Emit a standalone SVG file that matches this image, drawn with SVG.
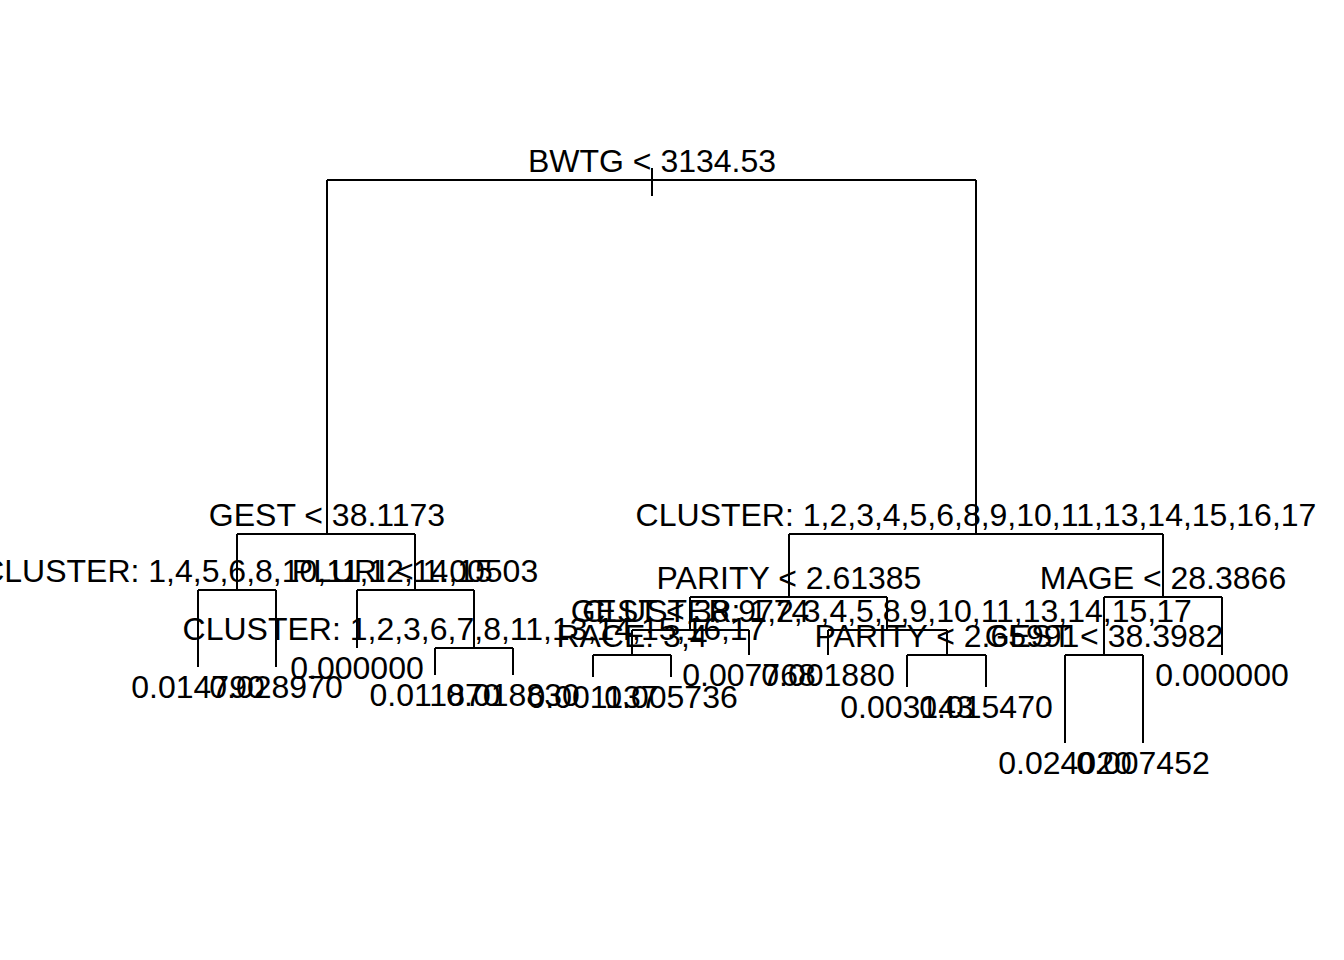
<svg xmlns="http://www.w3.org/2000/svg" width="1344" height="960" viewBox="0 0 1344 960">
<style>
  .e { fill: none; stroke: #000; stroke-width: 2; stroke-linecap: butt; }
  text { font-family: "Liberation Sans", Arial, sans-serif; font-size: 32px; fill: #000; text-anchor: middle; }
</style>
<rect width="1344" height="960" fill="#fff"/>
<g id="connectors">
  <path class="e" d="M652,168 V196 M327,180 H976"/>
  <path class="e" d="M327,180 V534 M237,534 H415"/>
  <path class="e" d="M237,534 V590 M198,590 H276 M198,590 V667 M276,590 V667"/>
  <path class="e" d="M415,534 V590 M357,590 H474 M357,590 V648"/>
  <path class="e" d="M474,590 V648 M435,648 H513 M435,648 V675 M513,648 V675"/>
  <path class="e" d="M976,180 V534 M789,534 H1163"/>
  <path class="e" d="M789,534 V597 M690,597 H887"/>
  <path class="e" d="M690,597 V630 M632,630 H749 M749,630 V655"/>
  <path class="e" d="M632,630 V655 M593,655 H671 M593,655 V677 M671,655 V677"/>
  <path class="e" d="M887,597 V630 M828,630 H947 M828,630 V655"/>
  <path class="e" d="M947,630 V655 M907,655 H986 M907,655 V687 M986,655 V687"/>
  <path class="e" d="M1163,534 V597 M1104,597 H1222 M1222,597 V655"/>
  <path class="e" d="M1104,597 V655 M1065,655 H1143 M1065,655 V743 M1143,655 V743"/>
</g>
<g id="n-root"><text x="652" y="172">BWTG &lt; 3134.53</text></g>
<g id="n-gest1"><text x="327" y="526">GEST &lt; 38.1173</text></g>
<g id="n-cluster-a"><text x="237" y="582">CLUSTER: 1,4,5,6,8,10,11,12,14,15</text></g>
<g id="leaf-1"><text x="198" y="698">0.014790</text></g>
<g id="leaf-2"><text x="276" y="698">0.028970</text></g>
<g id="n-pluri"><text x="415" y="582">PLURI &lt; 1.00503</text></g>
<g id="leaf-3"><text x="357" y="679">0.000000</text></g>
<g id="n-cluster-b"><text x="474" y="640">CLUSTER: 1,2,3,6,7,8,11,13,14,15,16,17</text></g>
<g id="leaf-4"><text x="435" y="706">0.011870</text></g>
<g id="leaf-5"><text x="513" y="706">0.018830</text></g>
<g id="n-cluster-c"><text x="976" y="526">CLUSTER: 1,2,3,4,5,6,8,9,10,11,13,14,15,16,17</text></g>
<g id="n-parity1"><text x="789" y="589">PARITY &lt; 2.61385</text></g>
<g id="n-gest2"><text x="690" y="622">GEST &lt; 38.9774</text></g>
<g id="n-race"><text x="632" y="647">RACE: 3,4</text></g>
<g id="leaf-6"><text x="593" y="708">0.001137</text></g>
<g id="leaf-7"><text x="671" y="708">0.005736</text></g>
<g id="leaf-8"><text x="749" y="686">0.007768</text></g>
<g id="n-cluster-d"><text x="887" y="622">CLUSTER: 1,2,3,4,5,8,9,10,11,13,14,15,17</text></g>
<g id="leaf-9"><text x="828" y="686">0.001880</text></g>
<g id="n-parity2"><text x="947" y="647">PARITY &lt; 2.65991</text></g>
<g id="leaf-10"><text x="907" y="718">0.003143</text></g>
<g id="leaf-11"><text x="986" y="718">0.015470</text></g>
<g id="n-mage"><text x="1163" y="589">MAGE &lt; 28.3866</text></g>
<g id="n-gest3"><text x="1104" y="647">GEST &lt; 38.3982</text></g>
<g id="leaf-12"><text x="1065" y="774">0.024020</text></g>
<g id="leaf-13"><text x="1143" y="774">0.007452</text></g>
<g id="leaf-14"><text x="1222" y="686">0.000000</text></g>
</svg>
